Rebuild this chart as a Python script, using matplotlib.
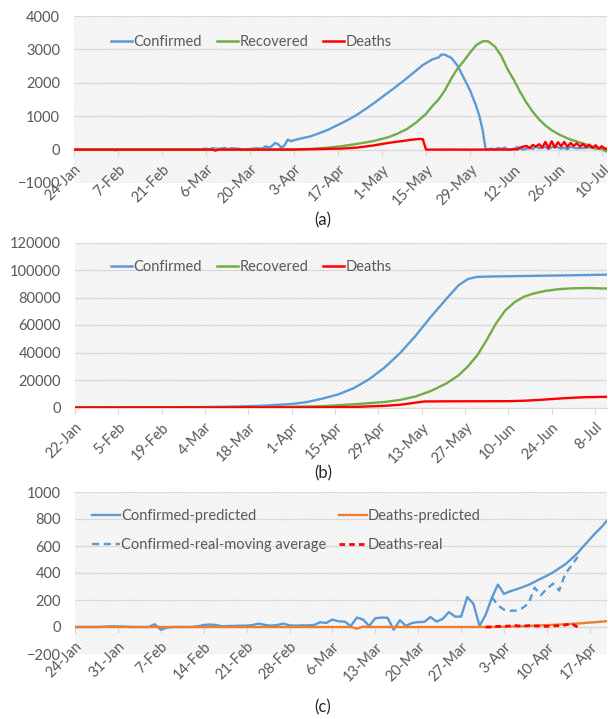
import matplotlib.pyplot as plt
from matplotlib.patches import Rectangle
from matplotlib.lines import Line2D

plt.rcParams['font.family'] = ['Lato', 'DejaVu Sans']
plt.rcParams['hatch.linewidth'] = 0.45

# colours (Excel office palette)
BLUE = '#5B9BD5'
GREEN = '#70AD47'
RED = '#FF0000'
ORANGE = '#ED7D31'
TEXT = '#595959'
GRID = '#d9d9d9'
HATCH = '#e2e2e2'
FS = 10.5

# ---------------- (a) daily new cases, day 0 = 24-Jan ----------------
ticks_a = [0, 14, 28, 42, 56, 70, 84, 98, 112, 126, 140, 154, 168]
labels_a = ['24-Jan', '7-Feb', '21-Feb', '6-Mar', '20-Mar', '3-Apr', '17-Apr',
            '1-May', '15-May', '29-May', '12-Jun', '26-Jun', '10-Jul']

conf_a_day = [0, 12, 13, 14, 16, 40, 42, 43, 44, 46, 48, 49, 50, 52, 54, 56, 58, 60,
              61, 62, 63, 64, 65, 66, 67, 68, 69, 70, 72, 75, 78, 81, 84, 87, 90, 93,
              96, 99, 102, 105, 108, 111, 114, 116, 117, 118, 120, 122, 124, 126, 128,
              129, 130, 131, 133, 134, 135, 136, 137, 138, 140, 141, 142, 143, 145, 146,
              147, 148, 150, 151, 152, 153, 155, 156, 157, 158, 160, 162, 164, 166, 168, 170]
conf_a_val = [0, 0, -20, 0, 0, 0, 30, 0, 40, 20, 50, 10, 40, 30, 0, 20, 40, 30,
              100, 60, 110, 200, 160, 50, 130, 300, 250, 280, 330, 390, 490, 600, 740, 880, 1040, 1230,
              1430, 1640, 1850, 2070, 2300, 2530, 2700, 2760, 2850, 2840, 2750, 2520, 2150, 1780, 1300,
              1000, 600, 0, 30, 0, 50, 20, 60, 10, 0, 80, 30, 0, 60, 20,
              90, 40, 80, 20, 70, 100, 30, 60, 10, 80, 40, 50, 70, 30, 40, 0]

rec_a_day = [0, 60, 70, 75, 80, 85, 90, 95, 100, 103, 106, 109, 112, 114, 116, 118, 120,
             122, 124, 126, 128, 130, 131, 132, 134, 136, 138, 140, 142, 144, 146, 148,
             150, 152, 154, 156, 158, 160, 162, 164, 166, 168, 170]
rec_a_val = [0, 0, 10, 20, 50, 100, 170, 250, 370, 480, 620, 820, 1070, 1300, 1500, 1770, 2120,
             2420, 2650, 2900, 3130, 3240, 3250, 3230, 3080, 2800, 2400, 2080, 1720, 1400, 1130, 900,
             720, 580, 470, 380, 300, 240, 180, 120, 60, 10, -80]

death_a_day = [0, 44, 45, 46, 70, 75, 80, 85, 90, 95, 100, 104, 107, 110, 111, 112, 139,
               140, 141, 142, 143, 144, 145, 146, 147, 148, 149, 150, 151, 152, 153, 154,
               155, 156, 157, 158, 159, 160, 161, 162, 163, 164, 165, 166, 167, 168, 169, 170]
death_a_val = [0, 0, -30, 0, 0, 10, 20, 30, 60, 120, 200, 250, 290, 320, 310, 0, 0,
               20, 0, 60, 90, 110, 40, 140, 90, 160, 60, 230, 40, 250, 60, 220,
               100, 230, 80, 200, 110, 190, 90, 170, 70, 150, 50, 130, 30, 100, 20, 40]

# ---------------- (b) cumulative, day 0 = 22-Jan ----------------
ticks_b = [0, 14, 28, 42, 56, 70, 84, 98, 112, 126, 140, 154, 168]
labels_b = ['22-Jan', '5-Feb', '19-Feb', '4-Mar', '18-Mar', '1-Apr', '15-Apr',
            '29-Apr', '13-May', '27-May', '10-Jun', '24-Jun', '8-Jul']

conf_b_day = [0, 20, 40, 50, 60, 70, 75, 80, 85, 90, 95, 100, 105, 110, 115, 120, 124,
              127, 130, 135, 150, 172]
conf_b_val = [0, 100, 300, 600, 1200, 2500, 4000, 6500, 9500, 14000, 20500, 29000, 39500,
              52000, 66000, 79000, 89000, 93500, 95000, 95300, 95800, 96600]

rec_b_day = [0, 60, 70, 80, 90, 100, 105, 110, 115, 120, 124, 127, 130, 133, 136, 139,
             142, 145, 148, 152, 156, 160, 165, 172]
rec_b_val = [0, 200, 500, 1000, 2300, 4000, 5500, 8000, 12000, 17500, 23500, 30000, 38000,
             49000, 61000, 70500, 76500, 80500, 82800, 84800, 86000, 86600, 86900, 86500]

death_b_day = [0, 80, 90, 100, 105, 110, 113, 120, 140, 145, 150, 155, 160, 165, 172]
death_b_val = [0, 100, 400, 1200, 2000, 3500, 4400, 4500, 4600, 4900, 5500, 6300, 7000,
               7500, 7800]

# ---------------- (c) prediction vs real, day 0 = 24-Jan ----------------
ticks_c = [0, 7, 14, 21, 28, 35, 42, 49, 56, 63, 70, 77, 84]
labels_c = ['24-Jan', '31-Jan', '7-Feb', '14-Feb', '21-Feb', '28-Feb', '6-Mar',
            '13-Mar', '20-Mar', '27-Mar', '3-Apr', '10-Apr', '17-Apr']

conf_pred = [0, 0, 0, 0, 0, 3, 5, 5, 3, 0, 0, 0,
             0, 20, -20, -5, 0, 0, 0, 0, 5, 15, 18, 15, 5, 8, 8, 10, 10, 15,
             25, 15, 10, 15, 25, 12, 10, 12, 12, 15, 35, 30, 55, 42, 40, 8,
             70, 55, 8, 65, 70, 68, -20, 50, 8, 30, 36, 38, 74, 40, 60, 111,
             77, 77, 222, 173, 8, 90, 215, 314, 245, 265, 279, 295, 312, 335,
             358, 380, 405, 435, 465, 505, 548, 600, 650, 700, 745, 800]
death_pred = [0] * 46 + [-12, 3] + [0] * 19 + [0, 1, 1, 2, 4, 5, 6, 8, 10, 12, 14, 16,
                                            18, 20, 23, 26, 29, 33, 36, 40, 44]
ma_day = [68, 69, 70, 71, 72, 73, 74, 75, 76, 77, 78, 79, 80, 81, 82]
conf_real_ma = [222, 160, 128, 120, 122, 140, 175, 292, 235, 285, 321, 270, 395, 455, 519]
dr_day = [67, 68, 69, 70, 71, 72, 73, 74, 75, 76, 77, 78, 79, 80, 81, 82]
death_real = [0, 0, 5, 5, 8, 10, 6, 10, 8, 6, 5, 8, 10, 15, 25, 0]

W, H = 608, 719
fig = plt.figure(figsize=(W / 100, H / 100), dpi=100)


def px_axes(left, top, right, bottom):
    return fig.add_axes([left / W, 1 - bottom / H, (right - left) / W, (bottom - top) / H])


def style(ax, xlim, ylim, ystep, ticks, labels):
    ax.set_xlim(*xlim)
    ax.set_ylim(*ylim)
    ax.set_yticks(range(ylim[0], ylim[1] + 1, ystep))
    ax.add_patch(Rectangle((0, 0), 1, 1, transform=ax.transAxes, facecolor='#fbfbfb',
                           edgecolor=HATCH, hatch='\\' * 9, lw=0, zorder=0))
    ax.grid(axis='y', color=GRID, lw=0.9)
    ax.set_axisbelow(True)
    for s in ['top', 'right', 'left']:
        ax.spines[s].set_visible(False)
    ax.spines['bottom'].set_position(('data', 0))
    ax.spines['bottom'].set_color(GRID)
    ax.spines['bottom'].set_zorder(0.6)
    ax.set_xticks(ticks)
    ax.set_xticklabels(labels, rotation=45, ha='right', rotation_mode='anchor')
    ax.tick_params(axis='x', length=4, width=0.9, color=GRID, pad=5,
                   labelcolor=TEXT, labelsize=FS)
    ax.tick_params(axis='y', length=0, pad=10, labelcolor=TEXT, labelsize=FS)


def legend3(ax, y_px):
    h = [Line2D([], [], color=c, lw=1.8) for c in (BLUE, GREEN, RED)]
    ax.legend(h, ['Confirmed', 'Recovered', 'Deaths'], ncol=3, loc='center left',
              bbox_to_anchor=(111 / W, 1 - y_px / H), bbox_transform=fig.transFigure,
              frameon=False, fontsize=FS, labelcolor=TEXT, handlelength=1.45,
              handletextpad=0.1, columnspacing=1.0, borderpad=0, borderaxespad=0)


# (a)
ax1 = px_axes(74, 16, 607, 183)
ax1.plot(conf_a_day, conf_a_val, color=BLUE, lw=1.7)
ax1.plot(rec_a_day, rec_a_val, color=GREEN, lw=1.7)
ax1.plot(death_a_day, death_a_val, color=RED, lw=1.7)
style(ax1, (0, 169.6), (-1000, 4000), 1000, ticks_a, labels_a)
legend3(ax1, 42)
fig.text(323 / W, 1 - 220 / H, '(a)', ha='center', va='center', fontsize=12, color='#262626')

# (b)
ax2 = px_axes(75, 242.5, 607, 407.5)
ax2.plot(conf_b_day, conf_b_val, color=BLUE, lw=1.7)
ax2.plot(rec_b_day, rec_b_val, color=GREEN, lw=1.7)
ax2.plot(death_b_day, death_b_val, color=RED, lw=1.7)
style(ax2, (0, 171.9), (0, 120000), 20000, ticks_b, labels_b)
legend3(ax2, 267)
fig.text(323 / W, 1 - 473 / H, '(b)', ha='center', va='center', fontsize=12, color='#262626')

# (c)
ax3 = px_axes(75, 492, 607, 654)
days_c = list(range(len(conf_pred)))
ax3.plot(days_c, conf_pred, color=BLUE, lw=1.7, label='Confirmed-predicted')
ax3.plot(ma_day, conf_real_ma, color=BLUE, lw=1.7, ls=(0, (3, 2)),
         label='Confirmed-real-moving average')
ax3.plot(days_c, death_pred, color=ORANGE, lw=1.7, label='Deaths-predicted')
ax3.plot(dr_day, death_real, color=RED, lw=2.0, ls=(0, (2, 1.5)), label='Deaths-real')
style(ax3, (0, 86.8), (-200, 1000), 200, ticks_c, labels_c)
ax3.legend(ncol=2, loc='center left', bbox_to_anchor=(92 / W, 1 - 530.5 / H),
           bbox_transform=fig.transFigure, frameon=False, fontsize=FS, labelcolor=TEXT,
           handlelength=1.9, handletextpad=0.1, columnspacing=0.85, labelspacing=1.0,
           borderpad=0, borderaxespad=0)
fig.text(323 / W, 1 - 707 / H, '(c)', ha='center', va='center', fontsize=12, color='#262626')

fig.savefig('out.png', dpi=100)
